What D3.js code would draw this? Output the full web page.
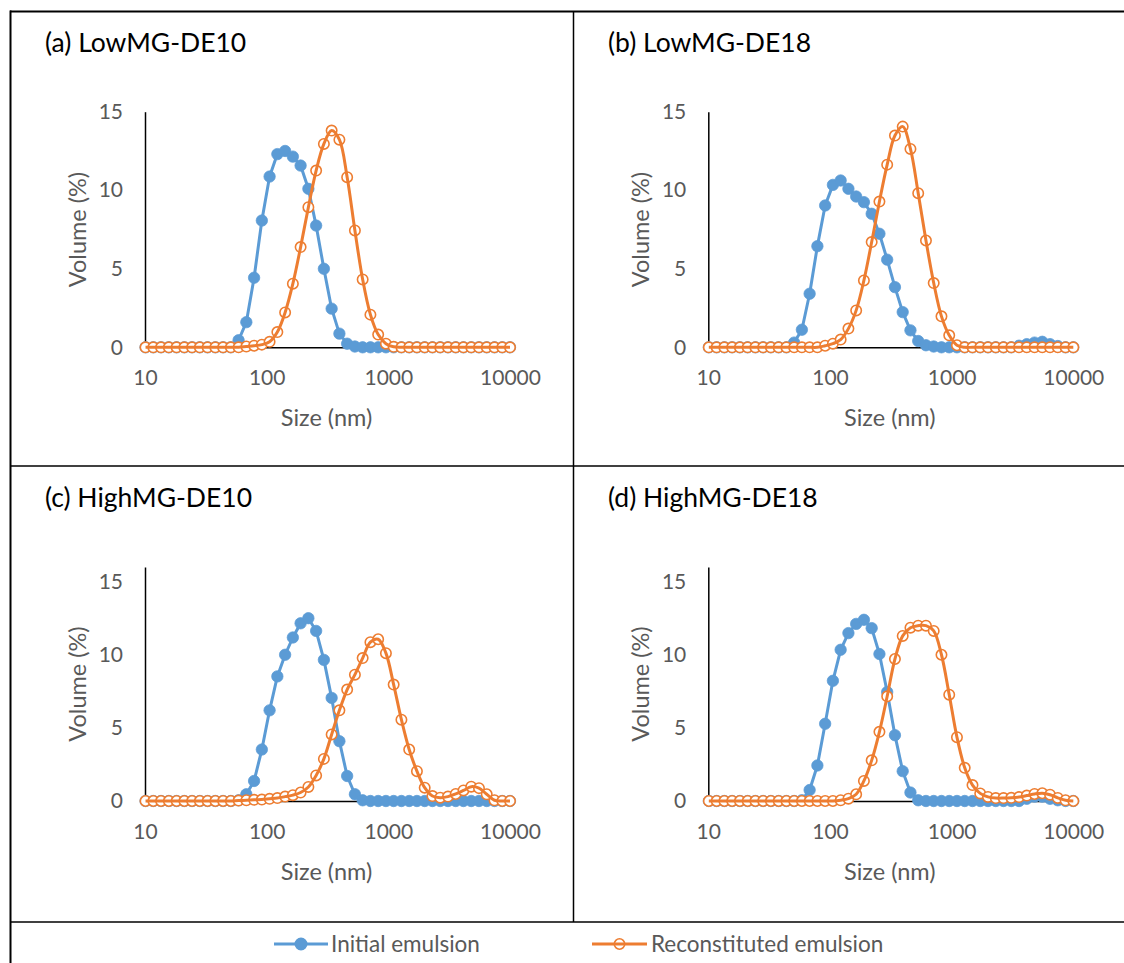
<!DOCTYPE html>
<html>
<head>
<meta charset="utf-8">
<script src="https://cdn.jsdelivr.net/npm/d3@7"></script>
<style>
  body { margin: 0; background: #fff; }
  svg text { font-family: Lato, "Open Sans", "Liberation Sans", sans-serif; }
</style>
</head>
<body>
<svg id="fig" width="1124" height="963"></svg>
<script>
// Particle size bins (nm)
const sizes = [10.1, 11.7, 13.54, 15.69, 18.17, 21.04, 24.36, 28.21, 32.67, 37.84,
  43.82, 50.75, 58.77, 68.06, 78.82, 91.28, 105.7, 122.4, 141.8, 164.2,
  190.1, 220.2, 255.0, 295.3, 342.0, 396.1, 458.7, 531.2, 615.1, 712.4,
  825.0, 955.4, 1106, 1281, 1484, 1718, 1990, 2305, 2669, 3091,
  3580, 4145, 4801, 5560, 6439, 7456, 8635, 10000];

const panelTitles = ["(a) LowMG-DE10", "(b) LowMG-DE18", "(c) HighMG-DE10", "(d) HighMG-DE18"];
const seriesNames = ["Initial emulsion", "Reconstituted emulsion"];
const xTickValues = [10, 100, 1000, 10000];
const yTickValues = [0, 5, 10, 15];
const yMaxima = [15, 15, 16, 16];

// Volume (%) per size bin
const initialA = [0,0,0,0,0,0,0,0,0,0, 0,0,0.45,1.6,4.43,8.07,10.87,12.3,12.5,12.14,
  11.57,10.09,7.75,5.0,2.46,0.87,0.23,0.05,0,0, 0,0,0,0,0,0,0,0,0,0, 0,0,0,0,0,0,0,0];
const reconA = [0,0,0,0,0,0,0,0,0,0, 0,0,0,0.05,0.1,0.17,0.35,0.97,2.22,4.05,
  6.38,8.92,11.25,12.95,13.8,13.22,10.83,7.44,4.32,2.08, 0.81,0.23,0.03,0,0,0,0,0,0,0, 0,0,0,0,0,0,0,0];

const initialB = [0,0,0,0,0,0,0,0,0,0, 0,0.3,1.12,3.41,6.44,9.03,10.34,10.62,10.09,9.6,
  9.24,8.5,7.23,5.58,3.83,2.24,1.08,0.4,0.13,0.05, 0,0,0,0,0,0,0,0,0,0, 0.1,0.2,0.3,0.35,0.2,0.08,0,0];
const reconB = [0,0,0,0,0,0,0,0,0,0, 0,0,0,0,0,0.1,0.23,0.49,1.19,2.35,
  4.26,6.7,9.28,11.63,13.48,14.05,12.63,9.81,6.8,4.09, 1.97,0.76,0.13,0,0,0,0,0,0,0, 0,0,0,0,0,0,0,0];

const initialC = [0,0,0,0,0,0,0,0,0,0, 0,0,0.05,0.46,1.37,3.52,6.2,8.52,10.0,11.18,
  12.15,12.5,11.63,9.65,7.05,4.09,1.71,0.46,0.05,0, 0,0,0,0,0,0,0,0,0,0, 0,0,0,0,0,0,0,0];
const reconC = [0,0,0,0,0,0,0,0,0,0, 0,0,0.03,0.05,0.08,0.1,0.15,0.2,0.3,0.4,
  0.58,0.96,1.75,2.88,4.55,6.2,7.62,8.64,9.77,10.86, 11.06,10.11,7.96,5.56,3.52,2.04,0.91,0.34,0.23,0.3, 0.48,0.72,0.98,0.88,0.46,0.05,0,0];

const initialD = [0,0,0,0,0,0,0,0,0,0, 0,0,0.05,0.75,2.43,5.28,8.22,10.34,11.48,12.11,
  12.39,11.82,10.05,7.45,4.5,2.04,0.58,0.05,0,0, 0,0,0,0,0,0,0,0,0,0, 0,0.15,0.3,0.3,0.15,0.05,0,0];
const reconD = [0,0,0,0,0,0,0,0,0,0, 0,0,0,0,0,0,0,0.05,0.16,0.46,
  1.37,2.78,4.73,7.16,9.71,11.29,11.85,11.99,11.99,11.63, 10.0,7.27,4.36,2.27,1.09,0.52,0.28,0.2,0.2,0.22, 0.27,0.37,0.48,0.53,0.43,0.21,0.05,0];

const initialSets = [initialA, initialB, initialC, initialD];
const reconSets = [reconA, reconB, reconC, reconD];

const BLUE = "#5B9BD5", ORANGE = "#ED7D31", GREY = "#595959";
const FONT = "Lato, 'Open Sans', sans-serif";

const svg = d3.select("#fig");
svg.append("rect").attr("width", 1124).attr("height", 963).attr("fill", "#fff");

// Frame lines separating the four panels and the legend row
const frame = svg.append("g").attr("stroke", "#000").attr("fill", "none");
frame.append("line").attr("x1", 10).attr("x2", 1124).attr("y1", 11.5).attr("y2", 11.5).attr("stroke-width", 2);
frame.append("line").attr("x1", 10.5).attr("x2", 10.5).attr("y1", 10.5).attr("y2", 963).attr("stroke-width", 2);
frame.append("line").attr("x1", 573.5).attr("x2", 573.5).attr("y1", 11).attr("y2", 922).attr("stroke-width", 1.5);
frame.append("line").attr("x1", 10).attr("x2", 1124).attr("y1", 466).attr("y2", 466).attr("stroke-width", 1.5);
frame.append("line").attr("x1", 10).attr("x2", 1124).attr("y1", 922).attr("y2", 922).attr("stroke-width", 1.5);

// Panel geometry: plot-area left edge, top edge, baseline
const panels = [
  { left: 145,   top: 111.7, bottom: 347.3, titleX: 45,  titleY: 52 },
  { left: 708.3, top: 111.7, bottom: 347.3, titleX: 608, titleY: 52 },
  { left: 145,   top: 567,   bottom: 801,   titleX: 45,  titleY: 507 },
  { left: 708.3, top: 567,   bottom: 801,   titleX: 608, titleY: 507 }
];
const plotWidth = 365;

panels.forEach((p, i) => {
  const g = svg.append("g");
  const x = d3.scaleLog().domain([10, 10000]).range([p.left, p.left + plotWidth]);
  const y = d3.scaleLinear().domain([0, yMaxima[i]]).range([p.bottom, p.top]);

  g.append("text")
    .attr("x", p.titleX).attr("y", p.titleY)
    .attr("font-size", 26.5).attr("fill", "#000")
    .text(panelTitles[i]);

  // y axis
  const yAxis = g.append("g").attr("transform", `translate(${p.left},0)`)
    .call(d3.axisLeft(y).tickValues(yTickValues).tickSize(0).tickSizeOuter(0).tickPadding(22));
  yAxis.select(".domain").attr("stroke", "#000").attr("stroke-width", 1.5);
  yAxis.selectAll("text").attr("font-size", 21).attr("fill", GREY).attr("font-family", FONT);

  // x axis
  const xAxis = g.append("g").attr("transform", `translate(0,${p.bottom})`)
    .call(d3.axisBottom(x).tickValues(xTickValues).tickFormat(d3.format("d")).tickSize(0).tickSizeOuter(0).tickPadding(23));
  xAxis.select(".domain").attr("stroke", "#000").attr("stroke-width", 1.5);
  xAxis.selectAll("text").attr("font-size", 21).attr("fill", GREY).attr("font-family", FONT);

  // axis titles
  g.append("text")
    .attr("x", p.left + plotWidth / 2 - 1).attr("y", p.bottom + 79)
    .attr("text-anchor", "middle").attr("font-size", 23.5).attr("fill", GREY)
    .text("Size (nm)");
  g.append("text")
    .attr("transform", `translate(${p.left - 59},${(p.top + p.bottom) / 2}) rotate(-90)`)
    .attr("text-anchor", "middle").attr("font-size", 23.5).attr("fill", GREY)
    .text("Volume (%)");

  const initPts = sizes.map((s, k) => [s, initialSets[i][k]]);
  const reconPts = sizes.map((s, k) => [s, reconSets[i][k]]);

  const lineLinear = d3.line().x(d => x(d[0])).y(d => y(d[1]));
  const lineSmooth = d3.line().x(d => x(d[0])).y(d => y(d[1])).curve(d3.curveCatmullRom.alpha(0.5));

  // Initial emulsion: line then filled markers
  g.append("path").datum(initPts).attr("d", lineLinear)
    .attr("fill", "none").attr("stroke", BLUE).attr("stroke-width", 3).attr("stroke-linejoin", "round");
  g.append("g").selectAll("circle").data(initPts).join("circle")
    .attr("cx", d => x(d[0])).attr("cy", d => y(d[1])).attr("r", 5.7)
    .attr("fill", BLUE).attr("stroke", BLUE).attr("stroke-width", 0.75);

  // Reconstituted emulsion: open markers with a smoothed line
  g.append("g").selectAll("circle").data(reconPts).join("circle")
    .attr("cx", d => x(d[0])).attr("cy", d => y(d[1])).attr("r", 5.2)
    .attr("fill", "#fff").attr("stroke", ORANGE).attr("stroke-width", 1.6);
  g.append("path").datum(reconPts).attr("d", lineSmooth)
    .attr("fill", "none").attr("stroke", ORANGE).attr("stroke-width", 3).attr("stroke-linejoin", "round");
});

// Legend row
const legend = svg.append("g");
const legendItems = [
  { name: seriesNames[0], color: BLUE, x1: 274, x2: 328, filled: true, tx: 331 },
  { name: seriesNames[1], color: ORANGE, x1: 592, x2: 647, filled: false, tx: 651 }
];
legendItems.forEach(it => {
  legend.append("line").attr("x1", it.x1).attr("x2", it.x2).attr("y1", 944).attr("y2", 944)
    .attr("stroke", it.color).attr("stroke-width", 3);
  legend.append("circle").attr("cx", (it.x1 + it.x2) / 2).attr("cy", 944).attr("r", it.filled ? 5.7 : 5.2)
    .attr("fill", it.filled ? it.color : "none").attr("stroke", it.color).attr("stroke-width", 1.6);
  legend.append("text").attr("x", it.tx).attr("y", 944).attr("dy", "0.35em")
    .attr("font-size", 22.5).attr("fill", GREY).text(it.name);
});
</script>
</body>
</html>
